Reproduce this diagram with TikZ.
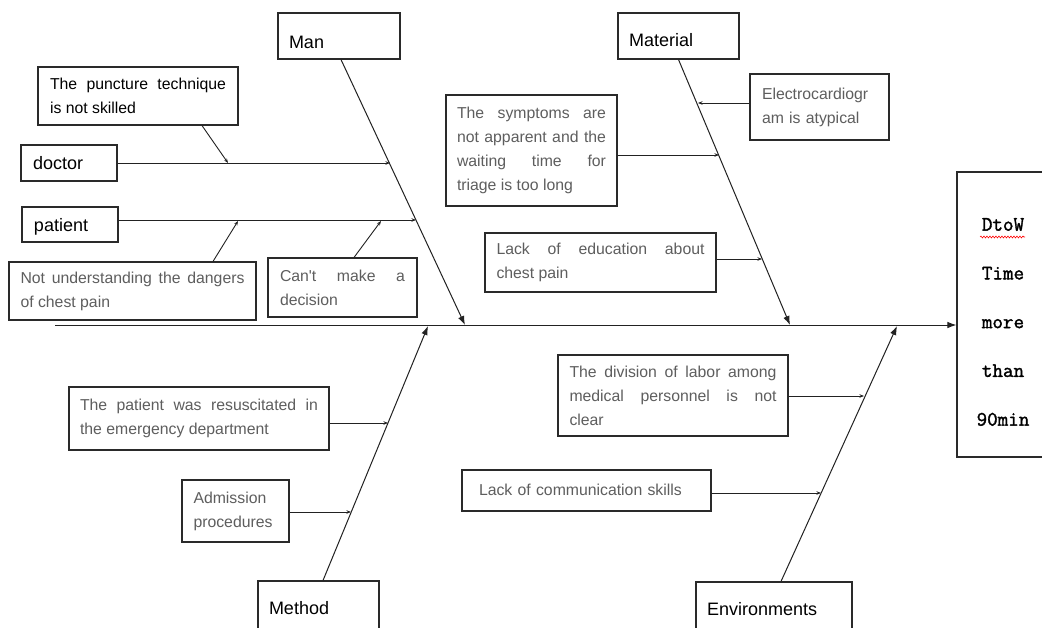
\documentclass[tikz,border=0pt]{standalone}
\usepackage{fontspec}
\setmainfont{Liberation Sans}
\newfontfamily\monof[FakeBold=1.6]{Latin Modern Mono}
\usetikzlibrary{arrows.meta,decorations.pathmorphing}
\definecolor{linec}{HTML}{222222}
\definecolor{boxc}{HTML}{2A2A2A}
\definecolor{subtext}{HTML}{5E5E5E}
\begin{document}
\begin{tikzpicture}[x=1pt,y=-1pt,
  frame/.style={draw=boxc, line width=1.1pt, rectangle, inner sep=0pt},
  catbox/.style={frame, font={\fontsize{18}{22}\selectfont}, text=black, align=left, text height=13pt, text depth=4pt},
  subbox/.style={frame, font={\fontsize{15.8}{24}\selectfont}, text=subtext, align=justify},
  bigarrow/.style={draw=linec, line width=1pt, -{Latex[length=9pt,width=6.5pt]}},
  smallarrow/.style={draw=linec, line width=0.9pt, -{Stealth[length=4.5pt,width=3.5pt]}}]
\useasboundingbox (0,0) rectangle (1042,627);
\clip (0,0) rectangle (1042,627);
\fill[white] (0,0) rectangle (1042,627);

% effect box
\node[frame, minimum width=93, minimum height=285] (effect) at (1003.5,314.5) {};
\node[font={\monof\fontsize{20.5}{48.75}\selectfont}, align=center, inner sep=0pt] (efftext) at (1003,322)
  {DtoW\\Time\\more\\than\\90min};
\draw[red, line width=0.6pt, decorate, decoration={snake, amplitude=0.9pt, segment length=3pt}] (980,237) -- (1025,237);

% spine
\coordinate (tail) at (55,325);
\draw[bigarrow] (tail) -- (tail -| effect.west);

% category boxes
\node[catbox, minimum width=122, minimum height=46, text width=100pt] (man) at (339,36) {\raisebox{-8pt}{Man}};
\node[catbox, minimum width=121, minimum height=46, text width=99pt] (material) at (678.5,36) {\raisebox{-6pt}{Material}};
\node[catbox, minimum width=121, minimum height=50, text width=99pt] (method) at (318.5,606) {\raisebox{-4pt}{Method}};
\node[catbox, minimum width=156, minimum height=50, text width=134pt] (env) at (774,607) {\raisebox{-4pt}{Environments}};
\node[catbox, minimum width=96, minimum height=36, text width=72pt] (doctor) at (69,163) {\raisebox{-2pt}{doctor}};
\node[catbox, minimum width=96, minimum height=35, text width=72pt] (patient) at (70,224.5) {\raisebox{-2pt}{patient}};

% bone end points
\coordinate (manhead) at (465,325);
\coordinate (mathead) at (790,325);
\coordinate (methhead) at (428,326);
\coordinate (envhead) at (897,326);
\draw[bigarrow] ([xshift=2pt]man.south) -- (manhead);
\draw[bigarrow] (material.south) -- (mathead);
\draw[bigarrow] ([xshift=4.5pt]method.north) -- (methhead);
\draw[bigarrow] ([xshift=7pt]env.north) -- (envhead);

% sub causes
\node[subbox, text=black, minimum width=200, minimum height=58, text width=176pt] (punct) at (138,96)
  {The puncture technique\linebreak is not skilled};
\node[subbox, minimum width=247, minimum height=58, text width=224pt] (notund) at (132.5,291)
  {Not understanding the dangers\linebreak of chest pain};
\node[subbox, minimum width=149, minimum height=59, text width=125pt] (cant) at (342.5,287.5)
  {Can\textquotesingle t make a\linebreak decision};
\node[subbox, minimum width=171, minimum height=111, text width=149pt] (symp) at (531.5,150.5)
  {The symptoms are\linebreak not apparent and the\linebreak waiting time for\linebreak triage is too long};
\node[subbox, align=left, minimum width=139, minimum height=66, text width=115pt] (ecg) at (819.5,107)
  {Electrocardiogr\\am is atypical};
\node[subbox, minimum width=231, minimum height=59, text width=208pt] (lackedu) at (600.5,262.5)
  {Lack of education about\linebreak chest pain};
\node[subbox, minimum width=260, minimum height=63, text width=238pt] (resus) at (199,418.5)
  {The patient was resuscitated in\linebreak the emergency department};
\node[subbox, align=left, minimum width=107, minimum height=62, text width=84pt] (admis) at (235.5,511)
  {Admission\\procedures};
\node[subbox, minimum width=230, minimum height=81, text width=207pt] (divis) at (673,395.5)
  {The division of labor among\linebreak medical personnel is not\linebreak clear};
\node[subbox, align=left, minimum width=249, minimum height=41, text width=215pt] (comm) at (586.5,490.5)
  {\raisebox{2pt}{Lack of communication skills}};

% junction points on the branches
\coordinate (d1) at (390,163);
\coordinate (d2) at (228,163);
\coordinate (p1) at (416,220);
\coordinate (p2) at (238,221);
\coordinate (p3) at (381,221);
\coordinate (m1) at (698,103);
\coordinate (m2) at (719,155);
\coordinate (m3) at (762,259);
\coordinate (t1) at (388,423);
\coordinate (t2) at (351,512);
\coordinate (e1) at (864,396);
\coordinate (e2) at (821,493);

\draw[smallarrow] (doctor.east) -- (d1);
\draw[smallarrow] (patient.east |- p1) -- (p1);
\draw[smallarrow] ([xshift=64pt]punct.south) -- (d2);
\draw[smallarrow] ([xshift=80.5pt]notund.north) -- (p2);
\draw[smallarrow] ([xshift=11.5pt]cant.north) -- (p3);
\draw[smallarrow] (ecg.west |- m1) -- (m1);
\draw[smallarrow] (symp.east |- m2) -- (m2);
\draw[smallarrow] (lackedu.east |- m3) -- (m3);
\draw[smallarrow] (resus.east |- t1) -- (t1);
\draw[smallarrow] (admis.east |- t2) -- (t2);
\draw[smallarrow] (divis.east |- e1) -- (e1);
\draw[smallarrow] (comm.east |- e2) -- (e2);
\end{tikzpicture}
\end{document}
